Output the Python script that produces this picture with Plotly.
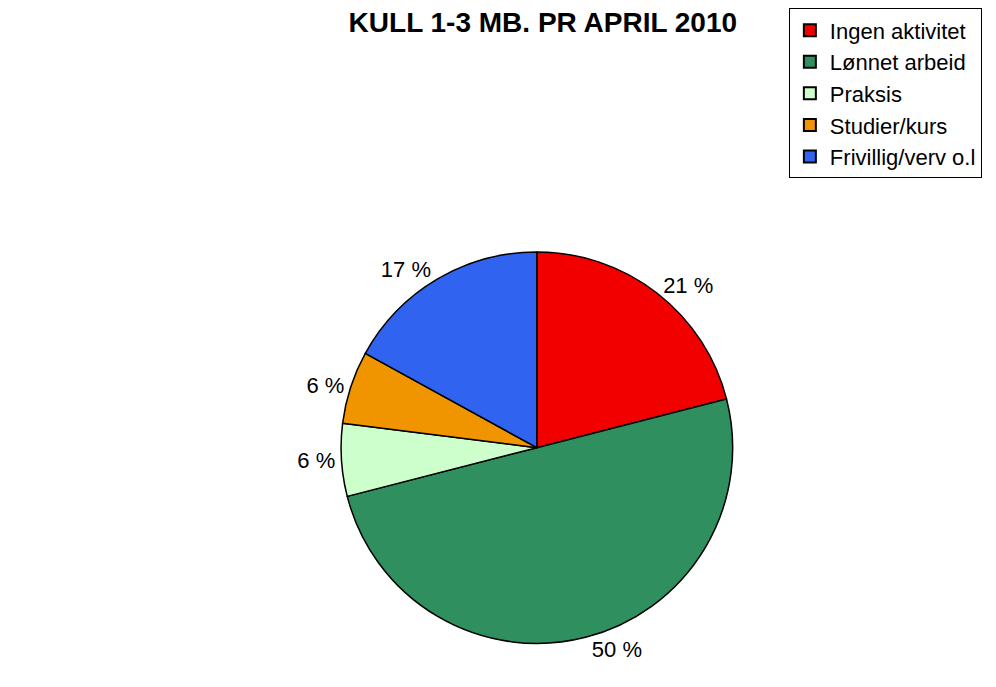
import plotly.graph_objects as go

categories = ["Ingen aktivitet", "Lønnet arbeid", "Praksis", "Studier/kurs", "Frivillig/verv o.l"]
values = [21, 50, 6, 6, 17]
colors = ["#F20000", "#2F8F5E", "#CCFFCC", "#F09400", "#3063F0"]
title_text = "KULL 1-3 MB. PR APRIL 2010"

labels_txt = [f"{v} %" for v in values]

fig = go.Figure(go.Pie(
    labels=categories,
    values=values,
    text=labels_txt,
    textinfo="text",
    textposition="outside",
    sort=False,
    direction="clockwise",
    rotation=0,
    marker=dict(colors=colors, line=dict(color="black", width=1.5)),
    textfont=dict(family="Liberation Sans, Arial", size=22, color="black"),
    domain=dict(x=[0.2, 0.862], y=[0.075, 0.645]),
    hoverinfo="label+percent",
))

fig.update_layout(
    width=996, height=687,
    margin=dict(l=0, r=0, t=0, b=0),
    paper_bgcolor="white",
    plot_bgcolor="white",
    font=dict(family="Liberation Sans, Arial", size=22, color="black"),
    title=dict(text=f"<b>{title_text}</b>", x=0.537, xanchor="center",
               y=1 - 14/687, yanchor="middle",
               font=dict(family="Liberation Sans, Arial", size=28, color="black")),
    legend=dict(x=0.784, y=0.9995, xanchor="left", yanchor="top",
                bordercolor="black", borderwidth=1, bgcolor="white",
                font=dict(family="Liberation Sans, Arial", size=22, color="black"),
                itemsizing="constant"),
    showlegend=True,
)

fig.write_html("out.html")
